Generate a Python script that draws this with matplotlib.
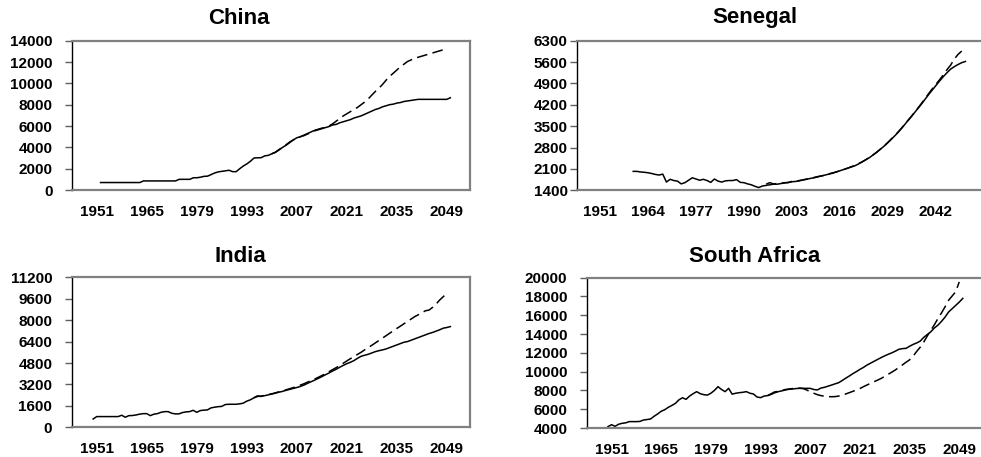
import numpy as np
import matplotlib
matplotlib.use("Agg")
import matplotlib.pyplot as plt

plt.rcParams['font.family'] = ['Liberation Sans', 'DejaVu Sans']
plt.rcParams['font.weight'] = 'bold'

# ---- data ----
china_solid_start = 1952
china_solid = [700, 700, 700, 700, 700, 700, 700, 700,
               700, 700, 700, 700, 850, 850, 850, 850, 850, 850,
               850, 850, 850, 850, 1000, 1000, 1000, 1000, 1150, 1150,
               1200, 1280, 1300, 1450, 1600, 1700, 1750, 1800, 1850, 1720,
               1720, 2000, 2250, 2450, 2700, 3000, 3020, 3030, 3200, 3250,
               3400, 3530, 3750, 4000, 4200, 4450, 4700, 4900, 5000, 5150,
               5300, 5450, 5600, 5700, 5800, 5850, 5950, 6100, 6150, 6300,
               6400, 6500, 6600, 6750, 6850, 6950, 7100, 7250, 7400, 7550,
               7650, 7800, 7900, 8000, 8050, 8150, 8200, 8300, 8350, 8400,
               8450, 8500, 8500, 8500, 8500, 8500, 8500, 8500, 8500, 8500,
               8650]
china_dash_start = 2000
china_dash = [3400, 3550, 3800, 4000, 4250, 4500, 4700, 4850, 5000, 5100,
              5250, 5400, 5550, 5650, 5750, 5850, 6000, 6200, 6450, 6700,
              6950, 7150, 7350, 7550, 7750, 8000, 8250, 8550, 8900, 9250,
              9550, 9900, 10300, 10650, 10950, 11250, 11550, 11800, 12050, 12200,
              12350, 12450, 12550, 12650, 12750, 12850, 12950, 13050, 13150, 13280]

senegal_solid_start = 1960
senegal_solid = [2020, 2020, 2000, 1990, 1975, 1950, 1920, 1900, 1930, 1670,
                 1760, 1720, 1700, 1610, 1650, 1730, 1810, 1770, 1730, 1760,
                 1720, 1660, 1770, 1700, 1670, 1710, 1720, 1720, 1750, 1660,
                 1650, 1610, 1580, 1530, 1490, 1540, 1560, 1580, 1600, 1600,
                 1620, 1640, 1660, 1680, 1690, 1710, 1740, 1760, 1790, 1810,
                 1840, 1870, 1900, 1930, 1960, 2000, 2040, 2080, 2120, 2160,
                 2200, 2260, 2330, 2400, 2470, 2560, 2650, 2750, 2850, 2960,
                 3080, 3200, 3330, 3470, 3620, 3760, 3910, 4060, 4210, 4370,
                 4530, 4680, 4830, 4980, 5120, 5250, 5370, 5450, 5520, 5580,
                 5620]
senegal_dash_start = 1996
senegal_dash = [1600, 1650, 1610, 1620,
                1630, 1650, 1650, 1690, 1700, 1720, 1740, 1770, 1790, 1820,
                1850, 1870, 1900, 1940, 1970, 2000, 2040, 2080, 2120, 2170,
                2210, 2270, 2330, 2400, 2480, 2560, 2650, 2750, 2860, 2970,
                3090, 3210, 3340, 3480, 3630, 3770, 3920, 4070, 4230, 4390,
                4560, 4720, 4870, 5020, 5180, 5350, 5500, 5700, 5850, 5960]

india_solid_start = 1950
india_solid = [620, 800, 800, 800, 800, 800, 800, 800, 900, 750,
               870, 880, 920, 980, 1020, 1020, 870, 980, 1020, 1120,
               1170, 1170, 1050, 1000, 1000, 1100, 1150, 1170, 1270, 1120,
               1250, 1280, 1300, 1450, 1500, 1540, 1560, 1700, 1720, 1720,
               1720, 1750, 1800, 1950, 2050, 2200, 2300, 2330, 2360, 2420,
               2480, 2550, 2620, 2680, 2760, 2830, 2900, 2970, 3050, 3150,
               3280, 3400, 3520, 3650, 3780, 3920, 4050, 4200, 4330, 4480,
               4620, 4750, 4850, 4980, 5150, 5300, 5380, 5450, 5550, 5650,
               5720, 5780, 5850, 5950, 6050, 6150, 6250, 6350, 6400, 6500,
               6600, 6700, 6800, 6900, 7000, 7080, 7180, 7280, 7400, 7450,
               7520]
india_dash_start = 1995
india_dash = [2200, 2350, 2300, 2400, 2450,
              2500, 2570, 2650, 2720, 2800, 2880, 2960, 3050, 3150, 3250,
              3370, 3480, 3600, 3730, 3860, 4000, 4150, 4300, 4450, 4600,
              4780, 4950, 5120, 5280, 5440, 5600, 5780, 5950, 6120, 6300,
              6480, 6660, 6840, 7020, 7200, 7380, 7550, 7730, 7900, 8080,
              8260, 8400, 8550, 8700, 8750, 8950, 9200, 9500, 9750, 10000]

safrica_solid_start = 1950
safrica_solid = [4150, 4350, 4180, 4400, 4500, 4550, 4680, 4680, 4680, 4700,
                 4850, 4900, 4960, 5250, 5500, 5780, 5950, 6200, 6400, 6620,
                 7000, 7220, 7050, 7400, 7650, 7870, 7650, 7550, 7500, 7700,
                 8000, 8400, 8100, 7870, 8220, 7600, 7700, 7760, 7800, 7870,
                 7700, 7620, 7300, 7230, 7400, 7450, 7580, 7750, 7870, 7950,
                 8050, 8120, 8150, 8200, 8220, 8220, 8220, 8220, 8100, 8050,
                 8250, 8330, 8450, 8570, 8700, 8820, 9050, 9300, 9530, 9780,
                 10000, 10240, 10450, 10700, 10900, 11100, 11300, 11500, 11680, 11850,
                 12000, 12180, 12380, 12450, 12480, 12700, 12900, 13050, 13250, 13650,
                 13950, 14250, 14650, 14950, 15350, 15800, 16350, 16700, 17050, 17400,
                 17800]
safrica_dash_start = 1995
safrica_dash = [7450, 7650, 7850, 7900, 8000,
                8100, 8150, 8200, 8250, 8250, 8200, 8050, 7850, 7700, 7550,
                7450, 7380, 7340, 7330, 7340, 7400, 7500, 7620, 7760, 7900,
                8050, 8200, 8400, 8580, 8750, 8930, 9100, 9280, 9500, 9720,
                9950, 10180, 10450, 10720, 11000, 11250, 11650, 12150, 12600, 13150,
                13800, 14400, 15000, 15650, 16250, 16900, 17600, 18050, 18500, 19550]

china_yticks = [0, 2000, 4000, 6000, 8000, 10000, 12000, 14000]
senegal_yticks = [1400, 2100, 2800, 3500, 4200, 4900, 5600, 6300]
india_yticks = [0, 1600, 3200, 4800, 6400, 8000, 9600, 11200]
safrica_yticks = [4000, 6000, 8000, 10000, 12000, 14000, 16000, 18000, 20000]
xticks_14 = [1951, 1965, 1979, 1993, 2007, 2021, 2035, 2049]
xticks_13 = [1951, 1964, 1977, 1990, 2003, 2016, 2029, 2042]

W, H = 981, 457
fig = plt.figure(figsize=(W / 100, H / 100), dpi=100)


def panel(rect, title, title_xy, s_start, s_vals, d_start, d_vals,
          yticks, xticks, xlim, ypad):
    ax = fig.add_axes(rect)
    ys = np.arange(s_start, s_start + len(s_vals))
    yd = np.arange(d_start, d_start + len(d_vals))
    ax.plot(ys, s_vals, color='black', lw=1.1)
    ax.plot(yd, d_vals, color='black', lw=1.1, dashes=(7, 3.5))
    ax.set_xlim(*xlim)
    ax.set_ylim(yticks[0], yticks[-1])
    ax.set_yticks(yticks)
    ax.set_xticks(xticks)
    ax.tick_params(axis='y', length=5, width=1, color='#606060',
                   labelsize=11, pad=ypad)
    ax.tick_params(axis='x', length=0, labelsize=11, pad=10.5)
    for lab in ax.get_xticklabels() + ax.get_yticklabels():
        lab.set_fontweight('bold')
    for side in ['top', 'bottom', 'right']:
        ax.spines[side].set_color('#808080')
        ax.spines[side].set_linewidth(1.6)
    ax.spines['left'].set_color('black')
    ax.spines['left'].set_linewidth(1.0)
    fig.text(title_xy[0] / W, 1 - title_xy[1] / H, title, ha='center',
             va='center', fontsize=16, fontweight='bold')
    return ax


panel([72 / W, 1 - 190 / H, 398 / W, 149.3 / H], 'China', (239, 18),
      china_solid_start, china_solid, china_dash_start, china_dash,
      china_yticks, xticks_14, (1944, 2055.5), 9)
panel([577.3 / W, 1 - 190.3 / H, 408.4 / W, 149.6 / H], 'Senegal', (755, 18),
      senegal_solid_start, senegal_solid, senegal_dash_start, senegal_dash,
      senegal_yticks, xticks_13, (1944.85, 2055.5), 2)
panel([71.7 / W, 1 - 427.3 / H, 398.3 / W, 150 / H], 'India', (240, 257),
      india_solid_start, india_solid, india_dash_start, india_dash,
      india_yticks, xticks_14, (1944, 2055.5), 9)
panel([586.7 / W, 1 - 428 / H, 395.6 / W, 150.3 / H], 'South Africa', (755, 257),
      safrica_solid_start, safrica_solid, safrica_dash_start, safrica_dash,
      safrica_yticks, xticks_14, (1944, 2055.5), 9)

fig.savefig('out.png', dpi=100)
